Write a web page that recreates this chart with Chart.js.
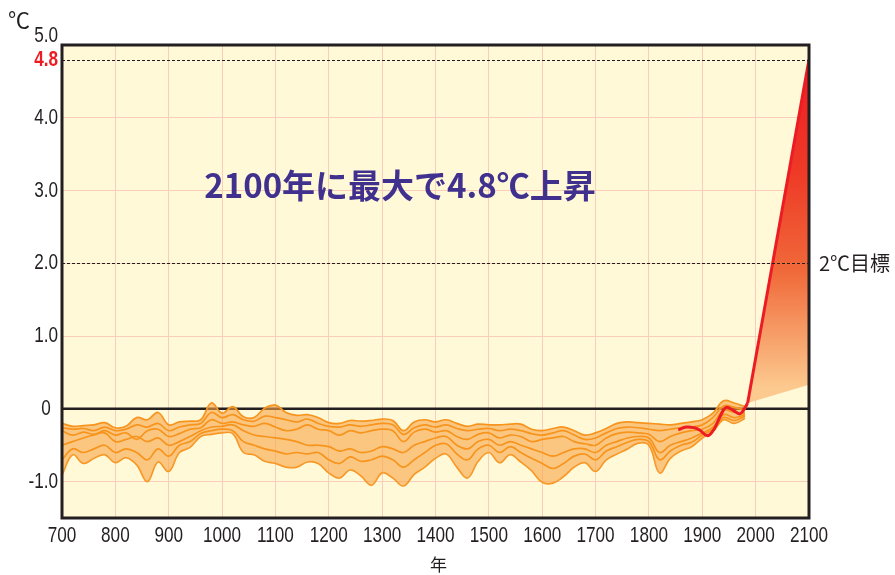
<!DOCTYPE html>
<html lang="ja">
<head>
<meta charset="UTF-8">
<title>2100年に最大で4.8℃上昇</title>
<script src="https://cdn.jsdelivr.net/npm/chart.js@4.4.1/dist/chart.umd.min.js"></script>
<style>
  body { margin: 0; background: #fff; }
  canvas { display: block; }
</style>
</head>
<body>
<canvas id="chart" width="895" height="575"></canvas>
<script>
// reconstructed temperatures (℃), one value every 20 years
const years = [700, 720, 740, 760, 780, 800, 820, 840, 860, 880, 900, 920, 940, 960, 980,
  1000, 1020, 1040, 1060, 1080, 1100, 1120, 1140, 1160, 1180, 1200, 1220, 1240, 1260, 1280,
  1300, 1320, 1340, 1360, 1380, 1400, 1420, 1440, 1460, 1480, 1500, 1520, 1540, 1560, 1580,
  1600, 1620, 1640, 1660, 1680, 1700, 1720, 1740, 1760, 1780, 1800, 1820, 1840, 1860, 1880,
  1900, 1920, 1940, 1960, 1980];

const upper = [-0.20, -0.24, -0.23, -0.22, -0.19, -0.26, -0.24, -0.12, -0.15, -0.05,
  -0.22, -0.18, -0.17, -0.15, 0.08, -0.06, 0.03, -0.11, -0.12, 0.01,
  0.05, -0.05, -0.09, -0.08, -0.12, -0.19, -0.20, -0.16, -0.17, -0.16,
  -0.14, -0.16, -0.30, -0.18, -0.15, -0.18, -0.15, -0.20, -0.24, -0.21,
  -0.22, -0.22, -0.21, -0.21, -0.28, -0.30, -0.27, -0.25, -0.30, -0.36,
  -0.33, -0.27, -0.20, -0.18, -0.19, -0.20, -0.21, -0.22, -0.20, -0.18,
  -0.15, -0.06, 0.11, 0.08, 0.03];

const lower = [-0.91, -0.63, -0.75, -0.68, -0.63, -0.74, -0.67, -0.77, -1.00, -0.73,
  -0.86, -0.60, -0.53, -0.38, -0.35, -0.33, -0.34, -0.60, -0.63, -0.72,
  -0.75, -0.80, -0.80, -0.73, -0.75, -0.88, -0.95, -0.84, -0.92, -1.05,
  -0.88, -0.95, -1.06, -0.90, -0.80, -0.68, -0.62, -0.80, -0.95, -0.72,
  -0.60, -0.74, -0.63, -0.73, -0.85, -1.01, -1.02, -0.93, -0.80, -0.74,
  -0.86, -0.70, -0.62, -0.55, -0.47, -0.50, -0.88, -0.68, -0.58, -0.52,
  -0.40, -0.31, -0.15, -0.20, -0.13];

const proxy1 = [-0.26, -0.28, -0.27, -0.30, -0.25, -0.30, -0.28, -0.22, -0.25, -0.20,
  -0.30, -0.25, -0.22, -0.20, -0.05, -0.12, -0.08, -0.15, -0.17, -0.10,
  -0.12, -0.15, -0.18, -0.14, -0.20, -0.24, -0.25, -0.22, -0.24, -0.22,
  -0.20, -0.22, -0.35, -0.26, -0.22, -0.25, -0.22, -0.27, -0.30, -0.28,
  -0.27, -0.30, -0.28, -0.30, -0.34, -0.36, -0.33, -0.30, -0.36, -0.42,
  -0.40, -0.33, -0.27, -0.25, -0.26, -0.28, -0.30, -0.28, -0.26, -0.25,
  -0.22, -0.12, 0.04, 0.02, -0.02];

const proxy2 = [-0.30, -0.36, -0.32, -0.35, -0.30, -0.36, -0.33, -0.42, -0.30, -0.28,
  -0.38, -0.34, -0.28, -0.26, -0.15, -0.20, -0.18, -0.22, -0.24, -0.20,
  -0.25, -0.30, -0.28, -0.22, -0.28, -0.30, -0.36, -0.30, -0.33, -0.30,
  -0.28, -0.30, -0.45, -0.32, -0.28, -0.32, -0.30, -0.38, -0.42, -0.35,
  -0.33, -0.40, -0.36, -0.38, -0.45, -0.42, -0.40, -0.38, -0.45, -0.48,
  -0.50, -0.40, -0.34, -0.32, -0.33, -0.35, -0.45, -0.38, -0.33, -0.30,
  -0.28, -0.20, -0.02, -0.05, -0.06];

const proxy3 = [-0.50, -0.45, -0.40, -0.36, -0.33, -0.45, -0.42, -0.38, -0.45, -0.40,
  -0.50, -0.45, -0.38, -0.30, -0.25, -0.24, -0.22, -0.30, -0.36, -0.38,
  -0.40, -0.42, -0.45, -0.50, -0.50, -0.52, -0.58, -0.55, -0.60, -0.58,
  -0.52, -0.55, -0.60, -0.50, -0.45, -0.40, -0.38, -0.50, -0.55, -0.45,
  -0.42, -0.50, -0.45, -0.50, -0.55, -0.60, -0.65, -0.60, -0.55, -0.55,
  -0.60, -0.50, -0.45, -0.40, -0.38, -0.40, -0.60, -0.50, -0.45, -0.40,
  -0.33, -0.25, -0.08, -0.12, -0.08];

const proxy4 = [-0.70, -0.55, -0.60, -0.55, -0.50, -0.60, -0.55, -0.60, -0.70, -0.55,
  -0.65, -0.50, -0.45, -0.34, -0.30, -0.28, -0.30, -0.45, -0.50, -0.55,
  -0.58, -0.62, -0.60, -0.62, -0.60, -0.70, -0.75, -0.66, -0.72, -0.70,
  -0.65, -0.70, -0.80, -0.70, -0.60, -0.50, -0.48, -0.62, -0.70, -0.55,
  -0.50, -0.60, -0.52, -0.60, -0.68, -0.75, -0.82, -0.75, -0.65, -0.62,
  -0.70, -0.58, -0.52, -0.46, -0.42, -0.45, -0.70, -0.58, -0.50, -0.46,
  -0.36, -0.28, -0.12, -0.16, -0.10];

// observed temperatures
const obsYears = [1855, 1870, 1885, 1895, 1910, 1922, 1935, 1945, 1958, 1970, 1978, 1985];
const obsValues = [-0.29, -0.25, -0.26, -0.29, -0.37, -0.28, -0.08, 0.02, -0.02, -0.07, -0.01, 0.08];

// projection range up to 2100
const projYears = [1985, 2100];
const projHigh = [0.08, 4.8];
const projLow = [0.08, 0.33];

// axis labels
const xTicks = [700, 800, 900, 1000, 1100, 1200, 1300, 1400, 1500, 1600, 1700, 1800, 1900, 2000, 2100];
const yTicks = [-1, 0, 1, 2, 3, 4, 4.8, 5];
const yLabels = ['-1.0', '0', '1.0', '2.0', '3.0', '4.0', '4.8', '5.0'];
const refLines = [4.8, 2];

const numFont = '"Liberation Sans", Arial, sans-serif';
const jpFont = '"Noto Sans CJK JP", "Noto Sans", sans-serif';
const ink = '#231f20';
const orange = '#f7941d';
const red = '#ed1c24';

const pts = (xs, ys) => xs.map((x, i) => ({ x, y: ys[i] }));

const proxyLine = (data) => ({
  data,
  borderColor: orange,
  borderWidth: 1.7,
  pointRadius: 0,
  tension: 0.4,
  fill: false
});

// condensed looking numbers (the original uses a narrow face)
const narrowText = (ctx, text, x, y, align, font, color) => {
  ctx.save();
  ctx.translate(x, y);
  ctx.scale(0.78, 1);
  ctx.font = font;
  ctx.fillStyle = color;
  ctx.textAlign = align;
  ctx.textBaseline = 'middle';
  ctx.fillText(text, 0, 0);
  ctx.restore();
};

// gradient for the projection wedge
const wedgeFill = (c) => {
  const chart = c.chart;
  if (!chart.chartArea) return 'rgba(240,90,50,0.8)';
  const y = chart.scales.y;
  const g = chart.ctx.createLinearGradient(0, y.getPixelForValue(4.8), 0, y.getPixelForValue(0.3));
  g.addColorStop(0, '#ed1c24');
  g.addColorStop(0.35, '#ee3b27');
  g.addColorStop(0.65, '#f06a3a');
  g.addColorStop(1, '#fcc98e');
  return g;
};

// background, zero line, dashed lines, frame and texts
const decor = {
  id: 'decor',
  beforeDraw(chart) {
    const { ctx, chartArea: a } = chart;
    ctx.save();
    ctx.fillStyle = '#fff';
    ctx.fillRect(0, 0, chart.width, chart.height);
    ctx.fillStyle = '#fff9d7';
    ctx.fillRect(a.left, a.top, a.right - a.left, a.bottom - a.top);
    ctx.restore();
  },
  beforeDatasetsDraw(chart) {
    const { ctx, chartArea: a, scales } = chart;
    const y0 = scales.y.getPixelForValue(0);
    ctx.save();
    ctx.strokeStyle = ink;
    ctx.lineWidth = 2.5;
    ctx.beginPath();
    ctx.moveTo(a.left, y0);
    ctx.lineTo(a.right, y0);
    ctx.stroke();
    ctx.restore();
  },
  afterDatasetsDraw(chart) {
    const { ctx, chartArea: a, scales } = chart;
    ctx.save();
    ctx.strokeStyle = ink;
    ctx.lineWidth = 1;
    ctx.setLineDash([3, 2]);
    refLines.forEach(v => {
      const py = Math.round(scales.y.getPixelForValue(v)) + 0.5;
      ctx.beginPath();
      ctx.moveTo(a.left, py);
      ctx.lineTo(a.right, py);
      ctx.stroke();
    });
    ctx.setLineDash([]);
    ctx.lineWidth = 3;
    ctx.strokeRect(a.left, a.top, a.right - a.left, a.bottom - a.top);
    ctx.restore();
  },
  afterDraw(chart) {
    const { ctx, chartArea: a, scales } = chart;

    // x labels
    xTicks.forEach(v => {
      narrowText(ctx, String(v), scales.x.getPixelForValue(v), a.bottom + 18, 'center', '22px ' + numFont, ink);
    });

    // y labels
    yTicks.forEach((v, i) => {
      let py = scales.y.getPixelForValue(v);
      let px = a.left - 4;
      let align = 'right';
      let font = '22px ' + numFont;
      let color = ink;
      if (v === 5) py -= 9;
      if (v === 4.8) {
        color = red;
        font = 'bold 22px ' + numFont;
      }
      if (v === 0) {
        align = 'center';
        px = 46;
      }
      narrowText(ctx, yLabels[i], px, py, align, font, color);
    });

    ctx.save();
    ctx.textBaseline = 'middle';

    // unit and axis title
    ctx.fillStyle = ink;
    ctx.textAlign = 'center';
    ctx.font = '22px ' + jpFont;
    ctx.fillText('℃', 19, 20);
    ctx.font = '17px ' + jpFont;
    ctx.fillText('年', (a.left + a.right) / 2 + 3, 565);

    // 2℃ target label
    ctx.textAlign = 'left';
    ctx.font = '20px ' + jpFont;
    ctx.fillText('2℃目標', a.right + 10, scales.y.getPixelForValue(2));

    // headline
    ctx.textAlign = 'center';
    ctx.fillStyle = '#40318e';
    ctx.font = 'bold 33px ' + jpFont;
    ctx.fillText('2100年に最大で4.8℃上昇', 400, 185);
    ctx.restore();
  }
};

const chart = document.querySelector('#chart');

new Chart(chart, {
  type: 'line',
  data: {
    datasets: [
      {
        data: pts(obsYears, obsValues),
        borderColor: red,
        borderWidth: 3,
        pointRadius: 0,
        tension: 0.4,
        fill: false
      },
      {
        data: pts(projYears, projHigh),
        borderColor: red,
        borderWidth: 3,
        pointRadius: 0,
        tension: 0,
        fill: '+1',
        backgroundColor: wedgeFill
      },
      {
        data: pts(projYears, projLow),
        borderColor: 'rgba(0,0,0,0)',
        pointRadius: 0,
        tension: 0,
        fill: false
      },
      proxyLine(pts(years, proxy1)),
      proxyLine(pts(years, proxy2)),
      proxyLine(pts(years, proxy3)),
      proxyLine(pts(years, proxy4)),
      Object.assign(proxyLine(pts(years, upper)), {
        fill: '+1',
        backgroundColor: 'rgba(249,165,70,0.6)'
      }),
      proxyLine(pts(years, lower))
    ]
  },
  options: {
    responsive: false,
    animation: false,
    layout: { padding: { top: 45, right: 86, left: 0, bottom: 0 } },
    plugins: {
      legend: { display: false },
      tooltip: { enabled: false }
    },
    scales: {
      x: {
        type: 'linear',
        min: 700,
        max: 2100,
        afterFit: s => { s.height = 57; },
        afterBuildTicks: s => { s.ticks = xTicks.map(v => ({ value: v })); },
        ticks: { display: false },
        grid: { color: '#f8cdb9', lineWidth: 1, drawTicks: false },
        border: { display: false }
      },
      y: {
        type: 'linear',
        min: -1.5,
        max: 5,
        afterFit: s => { s.width = 62; },
        afterBuildTicks: s => { s.ticks = yTicks.map(v => ({ value: v })); },
        ticks: { display: false },
        grid: {
          color: c => [-1, 1, 2, 3, 4].includes(c.tick.value) ? '#f8cdb9' : 'rgba(0,0,0,0)',
          lineWidth: 1,
          drawTicks: false
        },
        border: { display: false }
      }
    }
  },
  plugins: [decor]
});
</script>
</body>
</html>
